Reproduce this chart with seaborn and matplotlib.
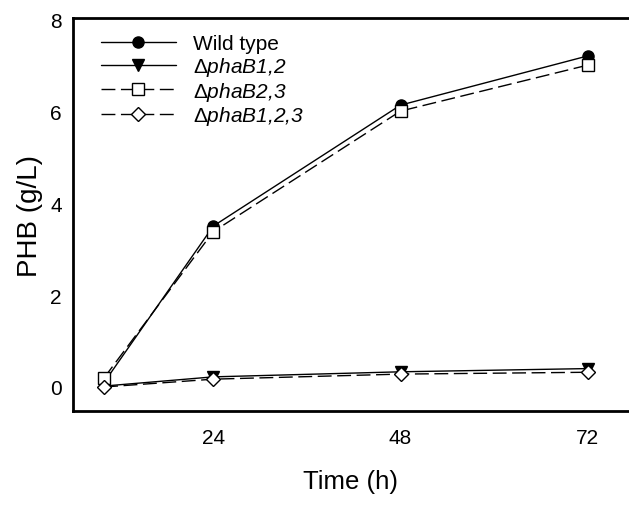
import numpy as np
import pandas as pd
import matplotlib
matplotlib.use("Agg")
import matplotlib.pyplot as plt
import seaborn as sns

time_h = [10, 24, 48, 72]
wild_type = [0.10, 3.50, 6.13, 7.20]
dphaB12 = [0.02, 0.22, 0.33, 0.40]
dphaB23 = [0.20, 3.38, 6.00, 7.00]
dphaB123 = [0.00, 0.17, 0.28, 0.32]
labels = ["Wild type", r"Δ$phaB1{,}2$", r"Δ$phaB2{,}3$", r"Δ$phaB1{,}2{,}3$"]
x_ticks = [24, 48, 72]
y_ticks = [0, 2, 4, 6, 8]

sns.set_theme(style="white")
plt.rcParams["font.family"] = ["Liberation Sans", "DejaVu Sans"]
plt.rcParams["mathtext.fontset"] = "custom"
plt.rcParams["mathtext.rm"] = "Liberation Sans:italic"
plt.rcParams["mathtext.it"] = "Liberation Sans:italic"
plt.rcParams["text.color"] = "black"
plt.rcParams["axes.labelcolor"] = "black"
plt.rcParams["xtick.color"] = "black"
plt.rcParams["ytick.color"] = "black"

fig = plt.figure(figsize=(6.29, 5.06), dpi=100)
ax = fig.add_axes([0.116, 0.186, 0.884, 0.776])

series = [wild_type, dphaB12, dphaB23, dphaB123]
styles = [
    dict(marker="o", mfc="black", dashes=None, ms=8),
    dict(marker="v", mfc="black", dashes=None, ms=8),
    dict(marker="s", mfc="white", dashes=(10, 4), ms=8),
    dict(marker="D", mfc="white", dashes=(10, 4), ms=7),
]
for vals, lab, st in zip(series, labels, styles):
    df = pd.DataFrame({"t": time_h, "v": vals})
    kw = dict(color="black", marker=st["marker"], markerfacecolor=st["mfc"],
              markeredgecolor="black", markeredgewidth=1.0, markersize=st["ms"],
              linewidth=1.0, label=lab)
    line_ax = sns.lineplot(data=df, x="t", y="v", ax=ax, **kw)
    if st["dashes"] is not None:
        line_ax.lines[-1].set_dashes(st["dashes"])

ax.set_xlim(6, 77.3)
ax.set_ylim(-0.52, 8.02)
ax.set_xticks(x_ticks)
ax.set_yticks(y_ticks)
ax.tick_params(direction="in", length=6, width=1, colors="black", labelsize=15, pad=8)
ax.tick_params(axis="x", pad=12)
for s in ["left", "bottom", "top"]:
    ax.spines[s].set_linewidth(2)
    ax.spines[s].set_color("black")
ax.spines["right"].set_visible(False)
ax.set_xlabel("Time (h)", fontsize=18.5, labelpad=16, color="black")
ax.set_ylabel("PHB (g/L)", fontsize=20, labelpad=5, color="black")

leg = ax.legend(loc="upper left", frameon=False, fontsize=15, handlelength=3.6,
                handletextpad=0.85, labelspacing=0.08, borderaxespad=0.0,
                bbox_to_anchor=(0.035, 0.98))
for t in leg.get_texts():
    t.set_color("black")

fig.savefig("out.png", dpi=100)
